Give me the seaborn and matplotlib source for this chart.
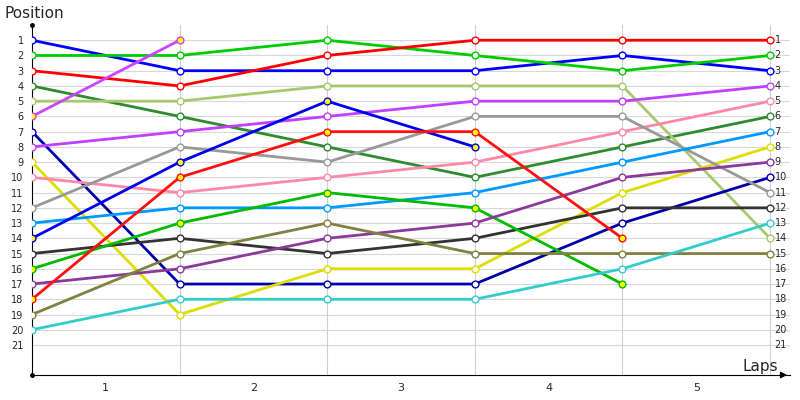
import numpy as np
import pandas as pd
import matplotlib
matplotlib.use('Agg')
import matplotlib.pyplot as plt
import seaborn as sns

# Position after each checkpoint (0 = start, then after laps 1..5)
drivers = ['A', 'B', 'C', 'D', 'E', 'F', 'G', 'H', 'I', 'J',
           'K', 'L', 'M', 'N', 'O', 'P', 'Q', 'R', 'S']
positions = {
    'A': [1, 3, 3, 3, 2, 3],
    'B': [2, 2, 1, 2, 3, 2],
    'C': [3, 4, 2, 1, 1, 1],
    'D': [4, 6, 8, 10, 8, 6],
    'E': [5, 5, 4, 4, 4, 14],
    'F': [6, 1],
    'G': [7, 17, 17, 17, 13, 10],
    'H': [8, 7, 6, 5, 5, 4],
    'I': [9, 19, 16, 16, 11, 8],
    'J': [10, 11, 10, 9, 7, 5],
    'K': [12, 8, 9, 6, 6, 11],
    'L': [13, 12, 12, 11, 9, 7],
    'M': [14, 9, 5, 8],
    'N': [15, 14, 15, 14, 12, 12],
    'O': [16, 13, 11, 12, 17],
    'P': [17, 16, 14, 13, 10, 9],
    'Q': [18, 10, 7, 7, 14],
    'R': [19, 15, 13, 15, 15, 15],
    'S': [20, 18, 18, 18, 16, 13],
}
line_colors = {
    'A': '#0000ff', 'B': '#00cc00', 'C': '#ff0000', 'D': '#2e8b2e',
    'E': '#a8c870', 'F': '#cc44ff', 'G': '#0000aa', 'H': '#c040ff',
    'I': '#dddd00', 'J': '#ff88aa', 'K': '#999999', 'L': '#0099ff',
    'M': '#0000ee', 'N': '#333333', 'O': '#00bb00', 'P': '#8b3a9b',
    'Q': '#ff1010', 'R': '#808040', 'S': '#33cccc',
}
yellow_marked = ['F', 'M', 'O', 'Q']
lap_labels = ['1', '2', '3', '4', '5']
n_pos = 21

rows = []
for d in drivers:
    for step, p in enumerate(positions[d]):
        rows.append({'driver': d, 'step': step, 'pos': p})
df = pd.DataFrame(rows)

sns.set_style('white')
plt.rcParams['font.family'] = ['DejaVu Sans']

fig = plt.figure(figsize=(8, 4), dpi=100)
ax = fig.add_axes([0.04, 0.0625, 0.9475, 0.875])

# grid
for p in range(1, n_pos + 1):
    ax.axhline(p, color='#d8d8d8', lw=0.8, zorder=0)
for s in range(1, 6):
    ax.axvline(s, color='#d0d0d0', lw=0.8, zorder=0)

sns.lineplot(data=df, x='step', y='pos', hue='driver', palette=line_colors,
             lw=2.0, legend=False, ax=ax, sort=False, zorder=2)
for d in drivers:
    sub = df[df.driver == d]
    face = '#ffff00' if d in yellow_marked else 'white'
    ax.scatter(sub.step, sub.pos, s=24, facecolor=face,
               edgecolor=line_colors[d], lw=1, zorder=3)

ax.set_xlim(0, 5.135)
ax.set_ylim(22.97, 0)
ax.set_yticks(range(1, n_pos + 1))
ax.set_yticklabels(range(1, n_pos + 1), fontsize=7)
ax.set_xticks([i + 0.5 for i in range(5)])
ax.set_xticklabels(lap_labels, fontsize=8)
ax.tick_params(length=0, pad=6)
ax.set_xlabel('')
ax.set_ylabel('')
for p in range(1, n_pos + 1):
    ax.text(5.03, p, str(p), fontsize=7, va='center', ha='left')

for side in ['top', 'right']:
    ax.spines[side].set_visible(False)
ax.spines['left'].set_color('black')
ax.spines['bottom'].set_color('black')
ax.annotate('', xy=(5.135, 22.97), xytext=(5.05, 22.97),
            arrowprops=dict(arrowstyle='-|>', color='black', lw=0.8),
            annotation_clip=False)
ax.plot([0, 0], [0, 22.97], 'o', color='black', ms=2.5, clip_on=False, zorder=4)

fig.text(0.005, 0.965, 'Position', fontsize=11, va='center')
fig.text(0.928, 0.085, 'Laps', fontsize=11, va='center')

fig.savefig('out.png', dpi=100)
